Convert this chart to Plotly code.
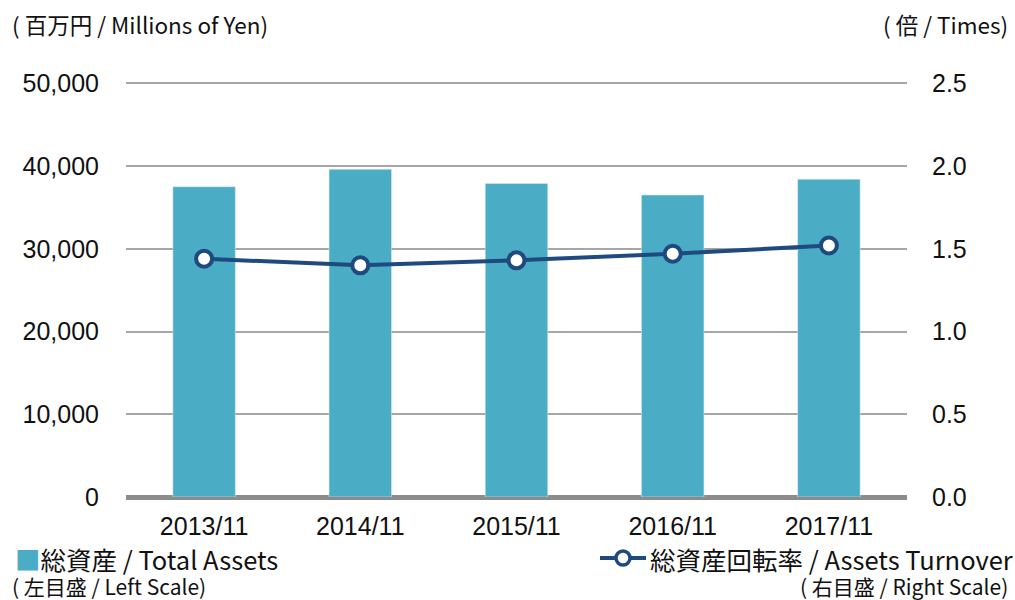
import plotly.graph_objects as go

categories = ["2013/11", "2014/11", "2015/11", "2016/11", "2017/11"]
total_assets = [37500, 39600, 37900, 36500, 38400]
turnover = [1.44, 1.40, 1.43, 1.47, 1.52]
left_ticks = [0, 10000, 20000, 30000, 40000, 50000]
right_ticks = [0.0, 0.5, 1.0, 1.5, 2.0, 2.5]

BAR = "#4BACC6"
LINE = "#1F4A7F"
CJK = "Noto Sans CJK JP, Noto Sans, sans-serif"
NUM = "Liberation Sans, Arial, sans-serif"

L, R, T, B = 126, 108, 80, 103
W, H = 1015, 600
PW, PH = W - L - R, H - T - B
YTOP = 50400
Y2TOP = 2.5 * YTOP / 50000

def px(x):
    return (x - L) / PW

def py(y):
    return (H - B - y) / PH

fig = go.Figure()
fig.add_trace(go.Bar(x=categories, y=total_assets, marker_color=BAR, width=0.4,
                     yaxis="y", name="総資産 / Total Assets"))
fig.add_trace(go.Scatter(x=categories, y=turnover, yaxis="y2", mode="lines+markers",
                         line=dict(color=LINE, width=4),
                         marker=dict(size=16, color="white", line=dict(color=LINE, width=4)),
                         name="総資産回転率 / Assets Turnover"))

fig.update_layout(
    width=W, height=H, margin=dict(l=L, r=R, t=T, b=B),
    plot_bgcolor="white", paper_bgcolor="white", showlegend=False,
    xaxis=dict(tickfont=dict(family=NUM, size=25, color="#111"), showgrid=False,
               ticks="", ticklabelstandoff=12),
    yaxis=dict(range=[0, YTOP], tickvals=left_ticks, tickformat=",",
               tickfont=dict(family=NUM, size=25, color="#111"),
               showgrid=True, gridcolor="#A6A6A6", gridwidth=2,
               zeroline=True, zerolinecolor="#8C8C8C", zerolinewidth=5,
               ticklabelstandoff=26),
    yaxis2=dict(range=[0, Y2TOP], tickvals=right_ticks, tickformat=".1f", overlaying="y",
                side="right", showgrid=False, zeroline=False,
                tickfont=dict(family=NUM, size=25, color="#111"),
                ticklabelstandoff=24),
    bargap=0.6,
)

ann = [
    dict(text="( 百万円 / Millions of Yen)", x=px(10), y=py(24), xanchor="left", size=22.5),
    dict(text="( 倍 / Times)", x=px(1010), y=py(24), xanchor="right", size=22.5),
    dict(text=f"<span style='color:{BAR}'>■</span>総資産 / Total Assets", x=px(13), y=py(558),
         xanchor="left", size=25.5),
    dict(text="( 左目盛 / Left Scale)", x=px(10), y=py(586), xanchor="left", size=21),
    dict(text="総資産回転率 / Assets Turnover", x=px(1015), y=py(558), xanchor="right", size=25.5),
    dict(text="( 右目盛 / Right Scale)", x=px(1010), y=py(586), xanchor="right", size=21),
]
for a in ann:
    fig.add_annotation(text=a["text"], x=a["x"], y=a["y"], xref="paper", yref="paper",
                       xanchor=a["xanchor"], yanchor="middle", showarrow=False,
                       font=dict(family=CJK, size=a["size"], color="#111"))

fig.add_shape(type="line", xref="paper", yref="paper", x0=px(600), x1=px(646),
              y0=py(558), y1=py(558), line=dict(color=LINE, width=4))
fig.add_shape(type="circle", xref="paper", yref="paper", xsizemode="pixel", ysizemode="pixel",
              xanchor=px(623), yanchor=py(558), x0=-7, x1=7, y0=-7, y1=7,
              fillcolor="white", line=dict(color=LINE, width=3.5))

fig.write_html("out.html", config={"displayModeBar": False},
               post_script="document.body.style.margin='0';document.body.style.overflow='hidden';")
